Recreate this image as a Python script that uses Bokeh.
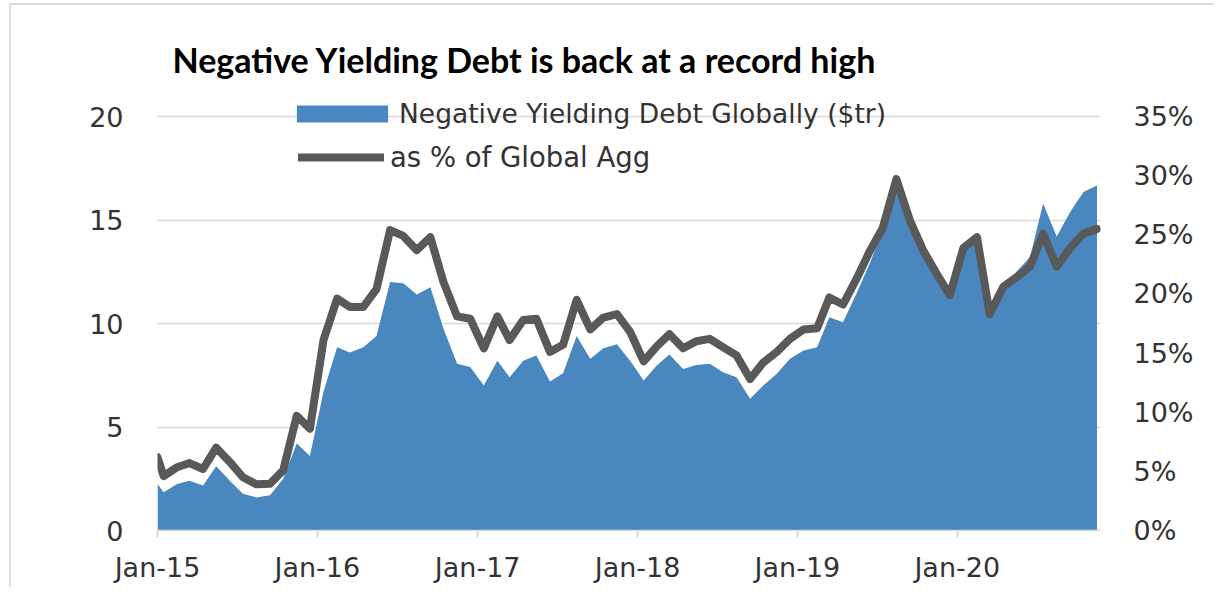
from datetime import datetime
import pandas as pd
from bokeh.plotting import figure
from bokeh.models import (Range1d, LinearAxis, FixedTicker, PrintfTickFormatter,
                          DatetimeTickFormatter, Legend, LegendItem, ColumnDataSource)
from bokeh.embed import file_html
from bokeh.resources import INLINE

# ---------------- data ----------------
# first observation at the start of Jan-15, then mid-month readings Jan-15 .. Nov-20
dates = ["2015-01-01"] + [f"{y}-{m:02d}-15" for y in range(2015, 2021) for m in range(1, 13)][:71]

debt_tr = [2.25,
           1.85, 2.25, 2.4, 2.17, 3.1, 2.4, 1.77, 1.6, 1.7, 2.5, 4.2, 3.6,
           6.7, 8.85, 8.6, 8.85, 9.4, 12.0, 11.95, 11.4, 11.75, 9.75, 8.05, 7.9,
           7.0, 8.2, 7.4, 8.2, 8.45, 7.2, 7.6, 9.4, 8.3, 8.8, 9.0, 8.2,
           7.25, 8.0, 8.5, 7.8, 8.0, 8.05, 7.65, 7.4, 6.36, 7.0, 7.57, 8.3,
           8.7, 8.85, 10.3, 10.06, 11.4, 12.9, 14.5, 16.8, 14.9, 13.4, 12.3, 11.3,
           13.55, 14.1, 10.4, 11.7, 12.5, 13.2, 15.8, 14.2, 15.4, 16.35, 16.67]

pct_global_agg = [6.2,
                  4.6, 5.35, 5.7, 5.2, 7.0, 5.8, 4.5, 3.9, 3.95, 5.1, 9.7, 8.6,
                  16.1, 19.6, 18.9, 18.9, 20.4, 25.4, 24.9, 23.7, 24.8, 21.0, 18.1, 17.9,
                  15.4, 18.1, 16.1, 17.8, 17.9, 15.1, 15.7, 19.5, 17.0, 18.0, 18.3, 16.8,
                  14.3, 15.6, 16.6, 15.4, 16.0, 16.2, 15.5, 14.8, 12.8, 14.2, 15.1, 16.2,
                  17.0, 17.1, 19.7, 19.1, 21.2, 23.6, 25.6, 29.7, 26.2, 23.7, 21.7, 19.9,
                  23.9, 24.8, 18.3, 20.6, 21.4, 22.3, 25.1, 22.3, 23.9, 25.1, 25.5]

x_ticks = ["2015-01-01", "2016-01-01", "2017-01-01", "2018-01-01", "2019-01-01", "2020-01-01"]
left_ticks = [0, 5, 10, 15, 20]
right_ticks = [0, 5, 10, 15, 20, 25, 30, 35]

title_text = "Negative Yielding Debt is back at a record high"
area_label = "Negative Yielding Debt Globally ($tr)"
line_label = "as % of Global Agg"

# ---------------- styling ----------------
BLUE = "#4a87bf"
GREY = "#595959"
GRID = "#d9d9d9"
TXT = "#333333"
FONT = "DejaVu Sans"

# the frame reaches a little above the top gridline (20 / 35%) so the legend fits inside
LEFT_TOP = 20 * 440 / 414
RIGHT_TOP = 35 * 440 / 414

source = ColumnDataSource(dict(date=pd.to_datetime(dates), debt=debt_tr, pct=pct_global_agg,
                               zero=[0] * len(dates)))

p = figure(width=1205, height=584, x_axis_type="datetime", output_backend="svg",
           toolbar_location=None,
           x_range=Range1d(datetime(2015, 1, 1), datetime(2020, 11, 23)),
           y_range=Range1d(0, LEFT_TOP),
           min_border_left=146, min_border_right=116, min_border_top=85, min_border_bottom=59)
p.extra_y_ranges = {"pct": Range1d(0, RIGHT_TOP)}
p.styles = {"border-left": "2px solid #dcdcdc", "border-top": "2px solid #dcdcdc",
            "margin-left": "9px", "margin-top": "3px"}

p.background_fill_color = "white"
p.border_fill_color = "white"
p.outline_line_color = None

area = p.varea(x="date", y1="zero", y2="debt", source=source, fill_color=BLUE)
line = p.line(x="date", y="pct", source=source, y_range_name="pct", line_color=GREY,
              line_width=8, line_join="round", line_cap="round")

# left axis
yax = p.yaxis[0]
yax.ticker = FixedTicker(ticks=left_ticks)
yax.axis_line_color = None
yax.major_tick_line_color = None
yax.minor_tick_line_color = None
yax.major_label_standoff = 28
yax.major_label_text_font = FONT
yax.major_label_text_font_size = "27px"
yax.major_label_text_color = TXT

# right axis
rax = LinearAxis(y_range_name="pct", ticker=FixedTicker(ticks=right_ticks),
                 formatter=PrintfTickFormatter(format="%d%%"))
rax.axis_line_color = None
rax.major_tick_line_color = None
rax.minor_tick_line_color = None
rax.major_label_standoff = 27
rax.major_label_text_font = FONT
rax.major_label_text_font_size = "27px"
rax.major_label_text_color = TXT
p.add_layout(rax, "right")

# bottom axis
xax = p.xaxis[0]
xax.ticker = FixedTicker(ticks=[int(t.value // 10**6) for t in pd.to_datetime(x_ticks)])
fmt = "%b-%y"
xax.formatter = DatetimeTickFormatter(milliseconds=fmt, seconds=fmt, minsec=fmt, minutes=fmt,
                                      hourmin=fmt, hours=fmt, days=fmt, months=fmt, years=fmt)
xax.axis_line_color = GRID
xax.axis_line_width = 1.5
xax.major_tick_line_color = GRID
xax.major_tick_line_width = 2
xax.major_tick_in = 0
xax.major_tick_out = 7
xax.minor_tick_line_color = None
xax.major_label_standoff = 14
xax.major_label_text_font = FONT
xax.major_label_text_font_size = "27px"
xax.major_label_text_color = TXT

p.xgrid.grid_line_color = None
p.ygrid.ticker = FixedTicker(ticks=left_ticks)
p.ygrid.grid_line_color = GRID
p.ygrid.grid_line_width = 1.5

# title
p.title.text = title_text
p.title.text_font = "Lato"
p.title.text_font_style = "bold"
p.title.text_font_size = "34px"
p.title.text_color = "black"
p.title.offset = 15
p.title.standoff = 22

# legends (one per entry so each swatch can be sized like the original)
common = dict(orientation="vertical", background_fill_alpha=0, border_line_alpha=0,
              padding=0, margin=0, label_text_font=FONT, label_text_color=TXT)
legend_area = Legend(items=[LegendItem(label=area_label, renderers=[area])],
                     location=(128, 401), glyph_width=114, glyph_height=21,
                     label_standoff=0, label_text_font_size="26.5px", **common)
legend_line = Legend(items=[LegendItem(label=line_label, renderers=[line])],
                     location=(141, 357), glyph_width=86, glyph_height=20,
                     label_standoff=6, label_text_font_size="27.5px", **common)
p.add_layout(legend_area)
p.add_layout(legend_line)

open("out.html", "w").write(file_html(p, INLINE))
